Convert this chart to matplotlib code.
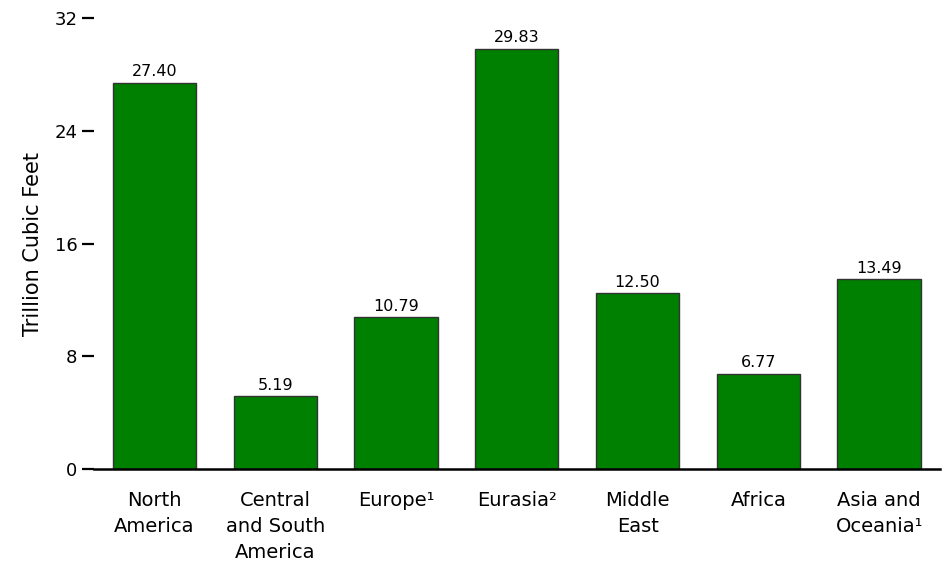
import matplotlib.pyplot as plt

plt.rcParams["font.family"] = ["DejaVu Sans"]

regions = [
    "North\nAmerica",
    "Central\nand South\nAmerica",
    "Europe\u00b9",
    "Eurasia\u00b2",
    "Middle\nEast",
    "Africa",
    "Asia and\nOceania\u00b9",
]
values = [27.40, 5.19, 10.79, 29.83, 12.50, 6.77, 13.49]
y_ticks = [0, 8, 16, 24, 32]

fig = plt.figure(figsize=(9.5, 5.64), dpi=100)
ax = fig.add_axes([0.099, 0.168, 0.890, 0.800])

x = list(range(len(regions)))
bars = ax.bar(x, values, width=0.69, color="#008000", edgecolor="#333333", linewidth=1.0)
for rect, v in zip(bars, values):
    ax.annotate(f"{v:.2f}", (rect.get_x() + rect.get_width() / 2, v),
                xytext=(0, 2.5), textcoords="offset points",
                ha="center", va="bottom", fontsize=11.5)

ax.set_xlim(-0.5, 6.5)
ax.set_ylim(0, 32)
ax.set_yticks(y_ticks)
ax.set_xticks(x)
ax.set_xticklabels(regions, fontsize=14, linespacing=1.45, va="top")
ax.tick_params(axis="x", length=0, pad=16)
ax.tick_params(axis="y", length=9, width=1.6, labelsize=13, pad=3)
ax.set_ylabel("Trillion Cubic Feet", fontsize=15, labelpad=8)

for side in ("left", "top", "right"):
    ax.spines[side].set_visible(False)
ax.spines["bottom"].set_linewidth(1.8)

fig.savefig("out.png", dpi=100)
